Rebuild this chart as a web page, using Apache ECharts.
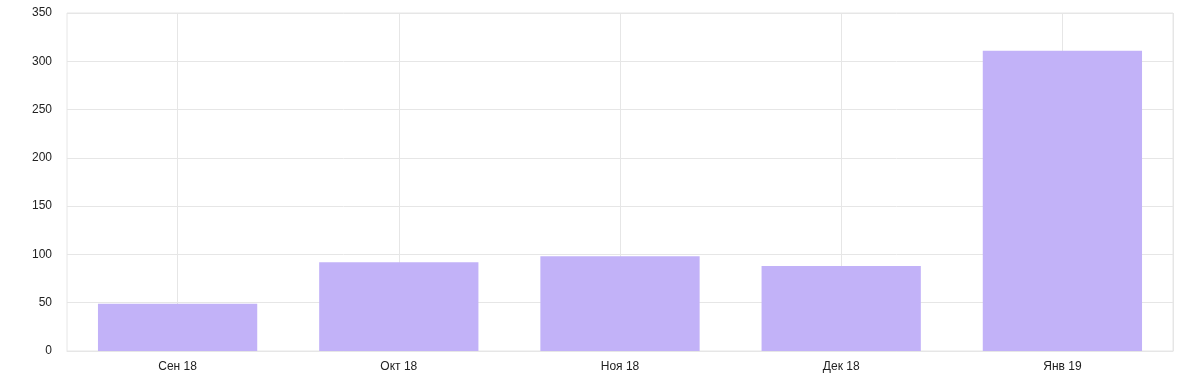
<!DOCTYPE html>
<html>
<head>
<meta charset="utf-8">
<script src="https://cdn.jsdelivr.net/npm/echarts@6/dist/echarts.min.js"></script>
<style>html,body{margin:0;padding:0;background:#fff;}#c{width:1178px;height:377px;}</style>
</head>
<body>
<div id="c"></div>
<script>
const categories = ['Сен 18', 'Окт 18', 'Ноя 18', 'Дек 18', 'Янв 19'];
const values = [49, 92, 98, 88, 311];
const yTicks = { min: 0, max: 350, interval: 50 };

const chart = echarts.init(document.getElementById('c'), null, { renderer: 'canvas' });
const gridColor = '#e6e6e6';
const helper = [];
for (let i = 0; i < categories.length * 2; i++) helper.push('');
chart.setOption({
  animation: false,
  backgroundColor: '#fff',
  textStyle: { fontFamily: 'Liberation Sans, Arial, sans-serif' },
  grid: { left: 67, right: 5, top: 13, bottom: 26, show: true, borderColor: gridColor, borderWidth: 1, containLabel: false },
  xAxis: [{
    type: 'category',
    data: categories,
    axisLine: { show: true, lineStyle: { color: gridColor } },
    axisTick: { show: false },
    splitLine: { show: false },
    axisLabel: { color: '#222', fontSize: 12, margin: 10 }
  }, {
    type: 'category',
    data: helper,
    position: 'bottom',
    axisLine: { show: false },
    axisTick: { show: false },
    axisLabel: { show: false },
    splitLine: { show: true, interval: function (i) { return i % 2 === 1; }, lineStyle: { color: gridColor } }
  }],
  yAxis: {
    type: 'value',
    min: yTicks.min, max: yTicks.max, interval: yTicks.interval,
    axisLine: { show: false },
    axisTick: { show: false },
    axisLabel: { color: '#222', fontSize: 12, margin: 15 },
    splitLine: { lineStyle: { color: gridColor } }
  },
  series: [{
    type: 'bar',
    data: values,
    xAxisIndex: 0,
    barCategoryGap: '28%',
    itemStyle: { color: '#c2b2f8' }
  }]
});
</script>
</body>
</html>
